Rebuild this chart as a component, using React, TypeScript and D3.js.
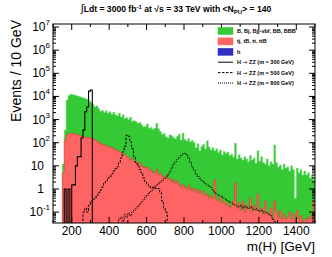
import React from 'react';
import * as d3 from 'd3';

// 10 GeV bins, background starts at 150 GeV
const bgStart = 150;
const binW = 10;

// total stack: B, Bj, Bjj-vbf, BB, BBB on top of top-quark backgrounds
const totalBkg = [
  12, 350, 7000, 11000, 12500, 12000, 11500, 11000, 10500, 9800,
  9000, 8600, 8200, 7400, 6500, 5500, 4400, 3600, 3900, 3000,
  2300, 2500, 2000, 2400, 1900, 2200, 1700, 2100, 1600, 1500,
  1900, 1300, 1600, 1100, 1200, 1000, 1250, 850, 900, 800,
  700, 750, 600, 480, 520, 650, 420, 450, 380, 430,
  700, 400, 300, 230, 250, 180, 160, 220, 200, 170,
  150, 190, 230, 130, 260, 140, 120, 150, 110, 125,
  100, 60, 90, 45, 70, 85, 55, 120, 65, 50,
  60, 45, 55, 38, 48, 30, 42, 35, 40, 28,
  32, 24, 95, 20, 30, 22, 18, 25, 20, 15,
  28, 18, 22, 13, 45, 16, 25, 14, 12, 20,
  10, 15, 12, 80, 14, 9, 11, 7, 12, 8,
  9, 6, 10, 7, 0.4, 8, 5, 7, 4, 6,
  4, 5, 3, 4, 2.5,
];

// tj, tB, tt, ttB
const topBkg = [
  5, 125, 215, 250, 260, 240, 250, 230, 220, 200,
  190, 180, 175, 170, 165, 160, 150, 130, 120, 105,
  95, 85, 80, 75, 70, 62, 60, 55, 50, 48,
  40, 38, 30, 32, 25, 22, 18, 20, 15, 16,
  12, 14, 10, 9, 8, 9, 6, 7, 5, 5,
  7, 4, 5, 3.5, 3, 4, 2.5, 3, 2, 2.5,
  1.8, 2.2, 1.5, 1.2, 1.6, 1.2, 1, 1.4, 0.9, 1.1,
  0.8, 1, 0.7, 0.9, 0.6, 0.8, 0.5, 0.6, 0.4, 0.5,
  0.4, 2.5, 0.35, 0.3, 0.45, 0.25, 0.3, 0.2, 0.25, 0.15,
  0.2, 0.3, 1.8, 0.15, 0.25, 0.12, 0.3, 0.1, 0.2, 0.15,
  0.4, 0.1, 0.2, 0.12, 0.6, 0.1, 0.15, 0.08, 0.3, 0.1,
  0.08, 0.15, 0.05, 0.3, 0.1, 0.06, 0.12, 0.05, 0.08, 0.05,
  0.06, 0.1, 0.05, 0.08, 0.04, 0.12, 0.05, 0.07, 0.04, 0.05,
  0.04, 0.06, 0.05, 0.08, 0.3,
];

// H -> ZZ signals
const sig300Start = 160;
const sig300 = [1, 0, 1, 0, 1.5, 1.5, 10, 25, 25, 160, 350, 2200, 3500, 17000, 19000];

const sig500Start = 260;
const sig500 = [
  0.1, 0.15, 0.1, 0.2, 0.3, 0.35, 0.4, 0.5, 0.7, 0.9,
  1.2, 1.8, 2.2, 3, 3.3, 4.5, 6, 7.5, 9, 14,
  22, 40, 70, 210, 190, 110, 55, 25, 14, 10,
  7, 5, 3, 2, 1.6, 1.3, 1.1, 1.2, 1.1, 1,
  1.05, 0.7, 0.3, 0.15, 0.1,
];

const sig800Start = 450;
const sig800 = [
  0.05, 0.06, 0.04, 0.08, 0.06, 0.09, 0.07, 0.1, 0.12, 0.15,
  0.18, 0.22, 0.28, 0.35, 0.45, 0.55, 0.7, 0.8, 1, 1.2,
  1.5, 1.7, 2, 2.4, 2.8, 3.2, 4, 5.5, 8, 12,
  15, 19, 23, 28, 33, 35, 30, 22, 14, 9,
  6.5, 4.5, 3.5, 2.8, 2.3, 2, 1.7, 1.5, 1.3, 1.2,
  0.9, 0.7, 0.6, 0.55, 0.5, 0.45, 0.4, 0.35, 0.3, 0.28,
  0.25, 0.22, 0.2, 0.18, 0.17, 0.2, 0.15, 0.18, 0.16, 0.14,
  0.17, 0.15, 0.13, 0.14, 0.12, 0.11, 0.12, 0.1, 0.1, 0.09,
  0.08, 0.07, 0.05, 0.04,
];

const xTicks = [200, 400, 600, 800, 1000, 1200, 1400];
const yDecades = [-1, 0, 1, 2, 3, 4, 5, 6, 7];

const legendItems = [
  { label: 'B, Bj, Bjj-vbf, BB, BBB', kind: 'box', color: '#35c935' },
  { label: 'tj, tB, tt, ttB', kind: 'box', color: '#ff6464' },
  { label: 'h', kind: 'box', color: '#3030c0' },
  { label: 'H|ZZ (m = 300 GeV)', kind: 'line', dash: '' },
  { label: 'H|ZZ (m = 500 GeV)', kind: 'line', dash: '2.5,1.5' },
  { label: 'H|ZZ (m = 800 GeV)', kind: 'line', dash: '1,1' },
];

const FONT = 'Liberation Sans, Arial, Helvetica, sans-serif';

const App = () => {
  const left = 53, right = 315, top = 24, bottom = 223;
  const x = d3.scaleLinear().domain([100, 1500]).range([left, right]);
  const yMin = Math.pow(10, -1.47);
  const y = d3.scaleLog().domain([yMin, Math.pow(10, 7.13)]).range([bottom, top]);
  const yc = (v: number) => (v <= yMin ? bottom + 2 : y(v));

  const histPts = (start: number, vals: number[]) => {
    const pts: [number, number][] = vals.map((v, i) => [start + i * binW, v]);
    pts.push([start + vals.length * binW, vals[vals.length - 1]]);
    return pts;
  };

  const area = d3
    .area<[number, number]>()
    .x((d) => x(d[0]))
    .y0(bottom + 2)
    .y1((d) => yc(d[1]))
    .curve(d3.curveStepAfter);

  const line = d3
    .line<[number, number]>()
    .x((d) => x(d[0]))
    .y((d) => yc(d[1]))
    .curve(d3.curveStepAfter);

  const sigPath = (start: number, vals: number[]) => {
    const end = start + vals.length * binW;
    const pts: [number, number][] = [[start, 0], ...histPts(start, vals), [end, 0]];
    return line(pts) || '';
  };

  const yMinor: number[] = [];
  for (let d = -2; d <= 7; d++) {
    for (let k = 2; k <= 9; k++) {
      const v = k * Math.pow(10, d);
      if (v > yMin && v < Math.pow(10, 7.13)) yMinor.push(v);
    }
  }
  const xMinor = d3.range(100, 1501, 100).filter((m) => m % 200 !== 0);

  const supLabel = (d: number) => {
    if (d === 0) return { base: '1', sup: '' };
    if (d === 1) return { base: '10', sup: '' };
    return { base: '10', sup: String(d) };
  };

  return (
    <svg
      width={332}
      height={257}
      style={{ position: 'absolute', left: 0, top: 0, background: '#fff' }}
      fontFamily={FONT}
    >
      <defs>
        <clipPath id="plot">
          <rect x={left} y={top} width={right - left} height={bottom - top} />
        </clipPath>
      </defs>

      <g clipPath="url(#plot)">
        <path d={area(histPts(bgStart, totalBkg)) || ''} fill="#35c935" stroke="#7ada7a" strokeWidth={0.5} />
        <path d={area(histPts(bgStart, topBkg)) || ''} fill="#ff6464" stroke="#e03c30" strokeWidth={0.6} />
        <path d={sigPath(sig300Start, sig300)} fill="none" stroke="#000" strokeWidth={1.1} />
        <path d={sigPath(sig500Start, sig500)} fill="none" stroke="#000" strokeWidth={1} strokeDasharray="2.5,1.5" />
        <path d={sigPath(sig800Start, sig800)} fill="none" stroke="#000" strokeWidth={1} strokeDasharray="1,1" />
      </g>

      <rect x={left} y={top} width={right - left} height={bottom - top} fill="none" stroke="#000" strokeWidth={1} />

      {/* x ticks */}
      {xTicks.map((m) => (
        <g key={'xt' + m}>
          <line x1={x(m)} x2={x(m)} y1={bottom} y2={bottom - 6} stroke="#000" />
          <line x1={x(m)} x2={x(m)} y1={top} y2={top + 6} stroke="#000" />
          <text x={x(m)} y={235} fontSize={12} textAnchor="middle">{m}</text>
        </g>
      ))}
      {xMinor.map((m) => (
        <g key={'xm' + m}>
          <line x1={x(m)} x2={x(m)} y1={bottom} y2={bottom - 3} stroke="#000" />
          <line x1={x(m)} x2={x(m)} y1={top} y2={top + 3} stroke="#000" />
        </g>
      ))}

      {/* y ticks */}
      {yDecades.map((d) => {
        const yy = y(Math.pow(10, d));
        const lab = supLabel(d);
        return (
          <g key={'yt' + d}>
            <line x1={left} x2={left + 6} y1={yy} y2={yy} stroke="#000" />
            <line x1={right} x2={right - 6} y1={yy} y2={yy} stroke="#000" />
            {lab.sup ? (
              <text x={50} y={yy + 4} fontSize={12} textAnchor="end">
                {lab.base}
                <tspan fontSize={8} dy={-6}>{lab.sup}</tspan>
              </text>
            ) : (
              <text x={44} y={yy + 4} fontSize={12} textAnchor="end">{lab.base}</text>
            )}
          </g>
        );
      })}
      {yMinor.map((v) => (
        <g key={'ym' + v}>
          <line x1={left} x2={left + 3} y1={y(v)} y2={y(v)} stroke="#000" />
          <line x1={right} x2={right - 3} y1={y(v)} y2={y(v)} stroke="#000" />
        </g>
      ))}

      {/* axis titles */}
      <text x={315} y={251} fontSize={13.5} textAnchor="end">m(H) [GeV]</text>
      <text transform="translate(21,20) rotate(-90)" fontSize={14} textAnchor="end">Events / 10 GeV</text>

      {/* title */}
      <text x={176} y={12} fontSize={8.6} fontWeight="bold" textAnchor="middle">
        <tspan fontSize={11} fontWeight="normal">{'\u222B'}</tspan>
        {'Ldt = 3000 fb'}
        <tspan fontSize={6} dy={-3}>-1</tspan>
        <tspan dy={3}>{' at \u221As = 33 TeV with <N'}</tspan>
        <tspan fontSize={6} dy={2}>PU</tspan>
        <tspan dy={-2}>{'> = 140'}</tspan>
      </text>

      {/* legend */}
      {legendItems.map((it, i) => {
        const cy = 31 + i * 10.4;
        const parts = it.label.split('|');
        return (
          <g key={'lg' + i}>
            {it.kind === 'box' ? (
              <rect x={218} y={cy - 3.5} width={15} height={7} fill={it.color} stroke={it.color} strokeWidth={0.5} />
            ) : (
              <line x1={218} x2={233} y1={cy} y2={cy} stroke="#000" strokeWidth={1} strokeDasharray={it.dash || undefined} />
            )}
            <text x={237} y={cy + 2} fontSize={5.5} fontWeight="bold">
              {parts[0]}
              {parts.length > 1 && (
                <>
                  <tspan fontFamily="DejaVu Sans" fontWeight="normal">{' \u2192 '}</tspan>
                  {parts[1]}
                </>
              )}
            </text>
          </g>
        );
      })}
    </svg>
  );
};

export default App;
